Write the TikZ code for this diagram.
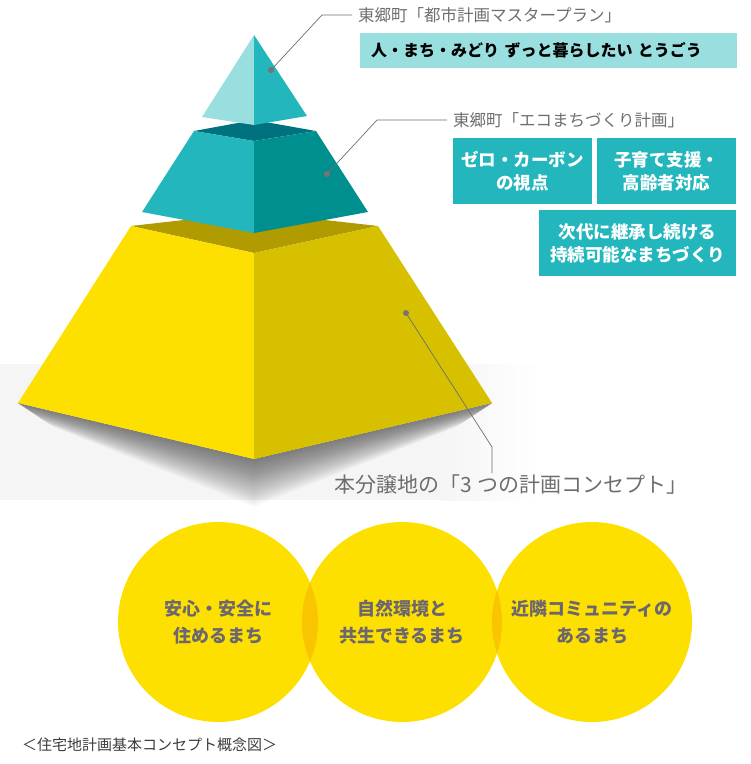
\documentclass[tikz,border=0pt]{standalone}
\usepackage{fontspec}
\setmainfont{Noto Sans CJK JP}
\usepackage{tikz}

\definecolor{tealLight}{HTML}{9ADFE0}
\definecolor{tealMid}{HTML}{23B7BD}
\definecolor{tealDark}{HTML}{008F8F}
\definecolor{tealTop}{HTML}{00727F}
\definecolor{sun}{HTML}{FDE000}
\definecolor{sunDark}{HTML}{D6C000}
\definecolor{sunTop}{HTML}{B09B00}
\definecolor{overlap}{HTML}{F9C400}
\definecolor{labelgray}{HTML}{6E6E6E}
\definecolor{dotgray}{HTML}{7A7276}
\definecolor{ringtext}{HTML}{6B6670}
\definecolor{captgray}{HTML}{3C3C3C}

\begin{document}
\begin{tikzpicture}[x=1pt,y=-1pt,
    lbl/.style={text=labelgray, font=\fontsize{16.5}{18}\selectfont, inner xsep=6pt, inner ysep=0pt, anchor=west},
    tealbox/.style={fill=tealMid, text=white, font=\bfseries\fontsize{17.5}{23}\selectfont, align=center, inner sep=0pt, minimum height=66pt},
    ring/.style={circle, fill=sun, minimum size=200pt, inner sep=0pt, text=ringtext, align=center, font=\bfseries\fontsize{18}{27}\selectfont},
    lead/.style={draw=labelgray, line width=0.7pt},
    leaddot/.style={fill=dotgray}
]
\useasboundingbox (0,0) rectangle (751,764);

% Shadow band
\fill[black!4] (0,364) rectangle (440,500);
\shade[left color=black!4, right color=white] (440,364) rectangle (540,500);
\foreach \k in {1,...,30}
  \fill[black, opacity=0.018] (18,403) -- (254,459) -- (492,403)
    -- (492-\k*1.2,403+\k*0.8) -- (254,459+\k*1.6) -- (18+\k*1.2,403+\k*0.8) -- cycle;

% Bottom tier
\fill[sunTop] (131,226) -- (254,212) -- (378,226) -- (254,253) -- cycle;
\fill[sun] (131,226) -- (254,253) -- (254,459) -- (18,403) -- cycle;
\fill[sunDark] (254,253) -- (378,226) -- (492,403) -- (254,459) -- cycle;

% Middle tier
\fill[tealTop] (194,131) -- (254,120) -- (316,131) -- (254,141) -- cycle;
\fill[tealMid] (194,131) -- (254,141) -- (254,233) -- (142,212) -- cycle;
\fill[tealDark] (254,141) -- (316,131) -- (368,212) -- (254,233) -- cycle;

% Top tier
\fill[tealLight] (254,35) -- (254,125) -- (202,117) -- cycle;
\fill[tealMid] (254,35) -- (307,116) -- (254,125) -- cycle;

% Labels
\node[lbl] (plan1) at (352,15) {東郷町「都市計画マスタープラン」};
\node[lbl] (plan2) at (447,120) {東郷町「エコまちづくり計画」};
\node[text=labelgray, font=\fontsize{21}{23}\selectfont, inner ysep=2pt] (concept) at (511,485) {本分譲地の「3 つの計画コンセプト」};

% Leaders
\coordinate (dot1) at (271,70);
\coordinate (bend1) at (322,15);
\coordinate (dot2) at (327,174);
\coordinate (bend2) at (377,120);
\coordinate (dot3) at (406,313);
\coordinate (bend3) at (492,447);
\draw[lead] (dot1) -- (bend1) -- (plan1.west);
\draw[lead] (dot2) -- (bend2) -- (plan2.west);
\draw[lead] (dot3) -- (bend3) -- (bend3 |- concept.north);
\foreach \d in {dot1,dot2,dot3}
  \fill[leaddot] (\d) circle (3pt);

% Boxes
\node[fill=tealLight, anchor=north west, text width=355pt, inner xsep=11pt, inner ysep=0pt,
  minimum height=35pt, align=left, font=\bfseries\fontsize{16}{20}\selectfont] (motto) at (360,33)
  {人・まち・みどり ずっと暮らしたい とうごう};
\node[tealbox, minimum width=139pt] (zero) at (522.5,171) {ゼロ・カーボン\\の視点};
\node[tealbox, minimum width=139pt] (kosodate) at (666.5,171) {子育て支援・\\高齢者対応};
\node[tealbox, minimum width=197pt] (jizoku) at (637.5,243) {次代に継承し続ける\\持続可能なまちづくり};

% Circles
\node[ring] (anshin) at (218,622) {安心・安全に\\住めるまち};
\node[ring] (shizen) at (402,622) {自然環境と\\共生できるまち};
\node[ring] (kinrin) at (592,622) {近隣コミュニティの\\あるまち};
\begin{scope}
  \clip (anshin.center) circle (100pt);
  \fill[overlap] (shizen.center) circle (100pt);
\end{scope}
\begin{scope}
  \clip (shizen.center) circle (100pt);
  \fill[overlap] (kinrin.center) circle (100pt);
\end{scope}

% Caption
\node[text=captgray, font=\fontsize{15}{17}\selectfont, anchor=west, inner sep=0pt] (caption) at (22,745)
  {＜住宅地計画基本コンセプト概念図＞};

\end{tikzpicture}
\end{document}
